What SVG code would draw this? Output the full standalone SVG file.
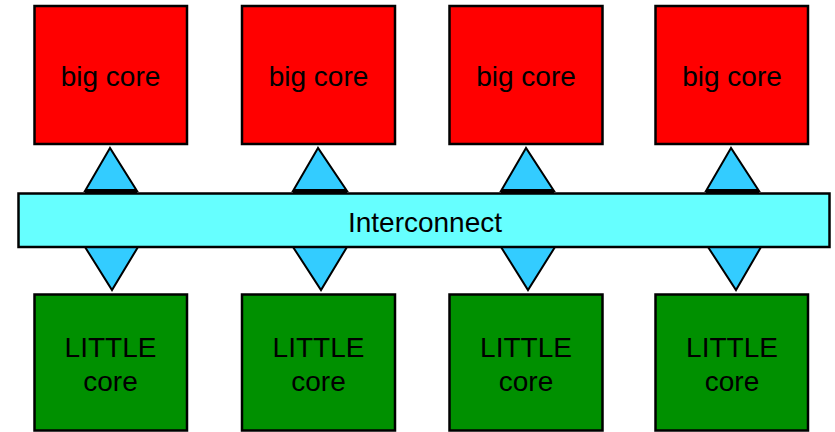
<svg xmlns="http://www.w3.org/2000/svg" width="835" height="432" viewBox="0 0 835 432">
<style>
.big{fill:#ff0000;stroke:#000;stroke-width:2.5}
.little{fill:#009000;stroke:#000;stroke-width:2.5}
.tri{fill:#33ccff;stroke:#000;stroke-width:2;stroke-linejoin:miter}
.base{stroke:#000;stroke-width:4}
.bus{fill:#66ffff;stroke:#000;stroke-width:2.5}
text{font-family:"Liberation Sans",Arial,sans-serif;font-size:28px;fill:#000;text-anchor:middle}
</style>
<rect width="835" height="432" fill="#fff"/>
<g id="connectors">
<polygon class="tri" points="110,148 85,191 137,191"/>
<polygon class="tri" points="318,148 293,191 347,191"/>
<polygon class="tri" points="526,148 501,191 554,191"/>
<polygon class="tri" points="731,148 706,191 759,191"/>
<line class="base" x1="85" y1="191" x2="137" y2="191"/>
<line class="base" x1="293" y1="191" x2="347" y2="191"/>
<line class="base" x1="501" y1="191" x2="554" y2="191"/>
<line class="base" x1="706" y1="191" x2="759" y2="191"/>
<polygon class="tri" points="85,247 138,247 112,290"/>
<polygon class="tri" points="293,247 347,247 321,290"/>
<polygon class="tri" points="501,247 555,247 528,290"/>
<polygon class="tri" points="708,247 761,247 736,290"/>
</g>
<g id="interconnect">
<rect class="bus" x="18.5" y="193.5" width="811" height="53.5"/>
<text x="425" y="232">Interconnect</text>
</g>
<g id="big1"><rect class="big" x="34.5" y="6" width="152.5" height="138"/><text x="110.5" y="86">big core</text></g>
<g id="big2"><rect class="big" x="242" y="6" width="153" height="138"/><text x="318.5" y="86">big core</text></g>
<g id="big3"><rect class="big" x="449.5" y="6" width="153" height="138"/><text x="526" y="86">big core</text></g>
<g id="big4"><rect class="big" x="655.5" y="6" width="152.5" height="138"/><text x="732" y="86">big core</text></g>
<g id="little1"><rect class="little" x="34.5" y="294.5" width="152.5" height="136"/><text x="110.5" y="357">LITTLE</text><text x="110.5" y="391">core</text></g>
<g id="little2"><rect class="little" x="242" y="294.5" width="153" height="136"/><text x="318.5" y="357">LITTLE</text><text x="318.5" y="391">core</text></g>
<g id="little3"><rect class="little" x="449.5" y="294.5" width="153" height="136"/><text x="526" y="357">LITTLE</text><text x="526" y="391">core</text></g>
<g id="little4"><rect class="little" x="655.5" y="294.5" width="152.5" height="136"/><text x="732" y="357">LITTLE</text><text x="732" y="391">core</text></g>
</svg>
